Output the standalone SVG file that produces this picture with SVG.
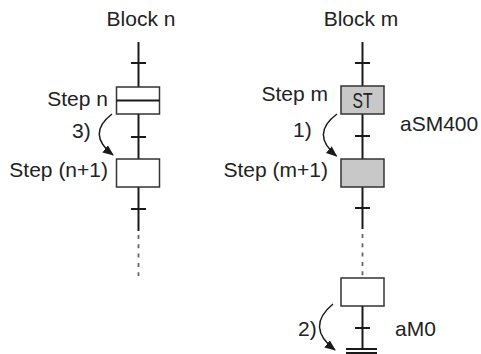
<svg xmlns="http://www.w3.org/2000/svg" width="481" height="354" viewBox="0 0 481 354">
<style>
text{font-family:"Liberation Sans",Arial,sans-serif;font-size:21px;fill:#222}
.st{font-size:22px}
.box{fill:#fff;stroke:#333;stroke-width:1.5}
.gray{fill:#c8c8c8}
.ln{stroke:#1a1a1a;stroke-width:2;fill:none}
.tk{stroke:#1a1a1a;stroke-width:2}
.dot{stroke:#666;stroke-width:1.8;stroke-dasharray:4 5.3;fill:none}
.arr{stroke:#1a1a1a;stroke-width:1.5;fill:none;marker-end:url(#ah)}
</style>
<defs>
<marker id="ah" markerUnits="userSpaceOnUse" markerWidth="11" markerHeight="10" refX="10" refY="4.5" orient="auto">
<path d="M0,0 L11,4.5 L0,9 z" fill="#1a1a1a"/>
</marker>
</defs>
<rect width="481" height="354" fill="#fff"/>
<g id="connectors">
<line class="ln" x1="138.5" y1="42" x2="138.5" y2="87"/>
<line class="tk" x1="131" y1="63" x2="146" y2="63"/>
<line class="ln" x1="138.5" y1="114" x2="138.5" y2="159"/>
<line class="tk" x1="131" y1="137" x2="146" y2="137"/>
<line class="ln" x1="138.5" y1="187" x2="138.5" y2="231"/>
<line class="tk" x1="131" y1="209" x2="146" y2="209"/>
<line class="dot" x1="138.5" y1="235" x2="138.5" y2="276"/>
<path class="arr" d="M112,114 Q86,134 113,155"/>
<line class="ln" x1="362.5" y1="42" x2="362.5" y2="86"/>
<line class="tk" x1="355" y1="63" x2="370" y2="63"/>
<line class="ln" x1="362.5" y1="114" x2="362.5" y2="159"/>
<line class="tk" x1="355" y1="136" x2="370" y2="136"/>
<line class="ln" x1="362.5" y1="187" x2="362.5" y2="229"/>
<line class="tk" x1="355" y1="208" x2="370" y2="208"/>
<line class="dot" x1="362.5" y1="234" x2="362.5" y2="276"/>
<line class="ln" x1="362.5" y1="306" x2="362.5" y2="349"/>
<line class="tk" x1="355" y1="328" x2="370" y2="328"/>
<line class="tk" x1="346" y1="349" x2="377" y2="349"/>
<line class="tk" x1="346" y1="353" x2="377" y2="353"/>
<path class="arr" d="M337,114 Q310,134 336.5,156"/>
<path class="arr" d="M333,304 Q305,327 335,350"/>
<text x="400" y="131">aSM400</text>
<text x="395" y="336">aM0</text>
<text x="72" y="138">3)</text>
<text x="293" y="137">1)</text>
<text x="298" y="336">2)</text>
</g>
<g id="block-n">
<text x="141" y="26" text-anchor="middle">Block n</text>
</g>
<g id="block-m">
<text x="361" y="26" text-anchor="middle">Block m</text>
</g>
<g id="step-n">
<rect class="box" x="116.5" y="87" width="43" height="27"/>
<line stroke="#1a1a1a" stroke-width="2" x1="116.5" y1="100.5" x2="159.5" y2="100.5"/>
<text x="108" y="106" text-anchor="end">Step n</text>
</g>
<g id="step-n1">
<rect class="box" x="116.5" y="159" width="43" height="28"/>
<text x="108" y="177" text-anchor="end">Step (n+1)</text>
</g>
<g id="step-m">
<rect class="box gray" x="341" y="86" width="43" height="28"/>
<text class="st" x="352.5" y="108" textLength="20" lengthAdjust="spacingAndGlyphs">ST</text>
<text x="328" y="101" text-anchor="end">Step m</text>
</g>
<g id="step-m1">
<rect class="box gray" x="341" y="159" width="43" height="28"/>
<text x="328" y="177" text-anchor="end">Step (m+1)</text>
</g>
<g id="step-end">
<rect class="box" x="341" y="278" width="43" height="28"/>
</g>
</svg>
